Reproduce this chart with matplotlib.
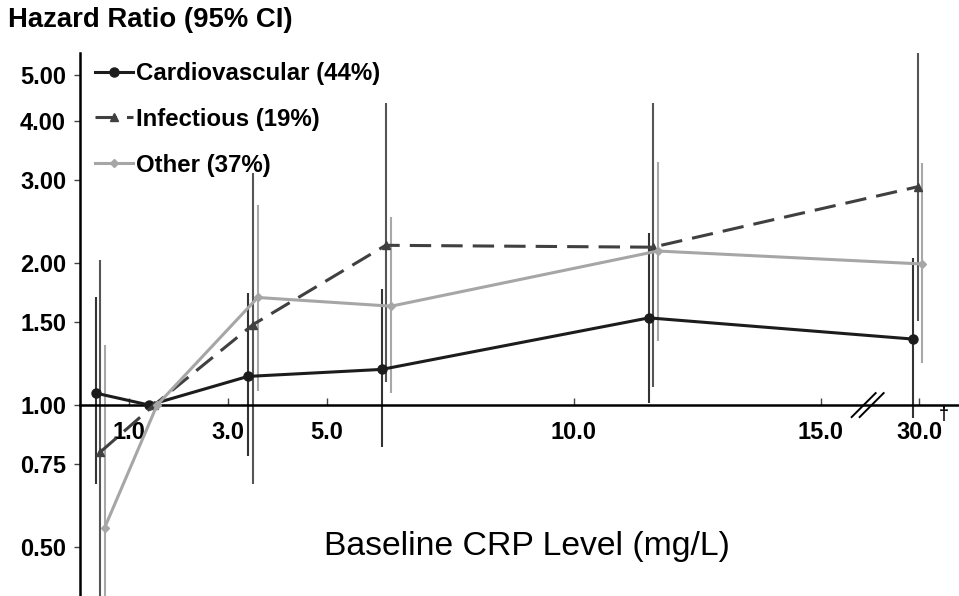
import numpy as np
import matplotlib
matplotlib.use("Agg")
import matplotlib.pyplot as plt
import matplotlib.transforms as mtransforms
from matplotlib.ticker import NullLocator, FixedLocator, FixedFormatter

plt.rcParams['font.family'] = ['Liberation Sans', 'DejaVu Sans']

# ---------------- data ----------------
x_ticks = [1, 3, 5, 10, 15, 17]
x_ticklabels = ["1.0", "3.0", "5.0", "10.0", "15.0", "30.0"]
y_ticks = [0.5, 0.75, 1.0, 1.5, 2.0, 3.0, 4.0, 5.0]
y_ticklabels = ["0.50", "0.75", "1.00", "1.50", "2.00", "3.00", "4.00", "5.00"]
axis_break = 15.95

cardio_x = [0.32, 1.40, 3.40, 6.11, 11.52, 16.86]
cardio_hr = [1.06, 1.00, 1.15, 1.19, 1.53, 1.38]
cardio_lo = [0.68, np.nan, 0.78, 0.815, 1.01, 0.94]
cardio_hi = [1.69, np.nan, 1.73, 1.76, 2.31, 2.05]

infect_x = [0.41, 1.50, 3.50, 6.19, 11.60, 16.96]
infect_hr = [0.795, 1.00, 1.48, 2.18, 2.16, 2.90]
infect_lo = [0.35, np.nan, 0.68, 1.12, 1.09, 1.51]
infect_hi = [2.03, np.nan, 3.10, 4.36, 4.36, 6.0]

other_x = [0.50, 1.56, 3.60, 6.30, 11.70, 17.06]
other_hr = [0.55, 1.00, 1.69, 1.62, 2.12, 1.99]
other_lo = [0.35, np.nan, 1.07, 1.06, 1.37, 1.23]
other_hi = [1.34, np.nan, 2.65, 2.50, 3.27, 3.26]

labels = ["Cardiovascular (44%)", "Infectious (19%)", "Other (37%)"]

# ---------------- figure ----------------
W, H = 959, 596
fig = plt.figure(figsize=(W / 100, H / 100), dpi=100)
ax = fig.add_axes([80 / W, 0, 1 - 80 / W, 1 - 53 / H])
ax.set_yscale('log')
ax.set_ylim(0.394, 5.57)
ax.set_xlim(0, 17.8)


def ci(ax, xs, lo, hi, color, lw):
    xs = np.asarray(xs, float)
    lo = np.asarray(lo, float)
    hi = np.asarray(hi, float)
    m = ~np.isnan(lo)
    ax.vlines(xs[m], lo[m], hi[m], colors=color, lw=lw, zorder=2)


ci(ax, cardio_x, cardio_lo, cardio_hi, '#333333', 1.5)
ci(ax, infect_x, infect_lo, infect_hi, '#555555', 1.5)
ci(ax, other_x, other_lo, other_hi, '#a8a8a8', 1.5)

l1, = ax.plot(cardio_x, cardio_hr, color='#1c1c1c', lw=2.2, marker='o', ms=6.5,
              zorder=4, label=labels[0])
l2, = ax.plot(infect_x, infect_hr, color='#404040', lw=2.2, marker='^', ms=6,
              dashes=(7, 3.3), zorder=4, label=labels[1])
l3, = ax.plot(other_x, other_hr, color='#a6a6a6', lw=2.2, marker='D', ms=4.5,
              zorder=4, label=labels[2])

# axes styling
for s in ('top', 'right'):
    ax.spines[s].set_visible(False)
ax.spines['bottom'].set_position(('data', 1.0))
ax.spines['bottom'].set_linewidth(1.8)
ax.spines['left'].set_linewidth(1.8)
ax.spines['bottom'].set_zorder(3)

ax.yaxis.set_major_locator(FixedLocator(y_ticks))
ax.yaxis.set_major_formatter(FixedFormatter(y_ticklabels))
ax.yaxis.set_minor_locator(NullLocator())
ax.set_xticks(x_ticks)
ax.set_xticklabels(x_ticklabels)
ax.tick_params(axis='y', direction='out', length=4, width=1, pad=6,
               labelsize=17, colors='#444444', labelcolor='black')
ax.tick_params(axis='x', direction='in', length=5, width=1, pad=11.5,
               labelsize=17, colors='#444444', labelcolor='black')
for t in ax.get_xticklabels() + ax.get_yticklabels():
    t.set_fontweight('bold')

# dagger on 30.0
ax.annotate("\u2020", xy=(x_ticks[-1], 1.0), xytext=(17.5, -6.5),
            textcoords='offset points', ha='center', va='center',
            fontsize=13, fontweight='bold', annotation_clip=False)

# axis break marks
cx, cy = ax.transData.transform((axis_break, 1.0))
brk_tr = mtransforms.Affine2D().translate(cx, cy)
for x0, x1 in ((-16, 8), (-8, 16)):
    ax.plot([x0, x1], [-12, 12], color='black', lw=1.4, transform=brk_tr,
            clip_on=False, zorder=5)

# legend
leg = ax.legend(handles=[l1, l2, l3], loc='upper left',
                bbox_to_anchor=(95 / W, 1 - 62 / H), bbox_transform=fig.transFigure,
                frameon=False, prop={'size': 17.3, 'weight': 'bold'},
                handlelength=1.6, handletextpad=0.12, labelspacing=0.95,
                borderpad=0, borderaxespad=0, numpoints=1)

# titles
fig.text(8 / W, 1 - 20 / H, "Hazard Ratio (95% CI)", fontsize=19.8,
         fontweight='bold', ha='left', va='center')
fig.text(527 / W, 1 - 547 / H, "Baseline CRP Level (mg/L)", fontsize=24.3,
         ha='center', va='center')

fig.savefig("out.png", dpi=100)
